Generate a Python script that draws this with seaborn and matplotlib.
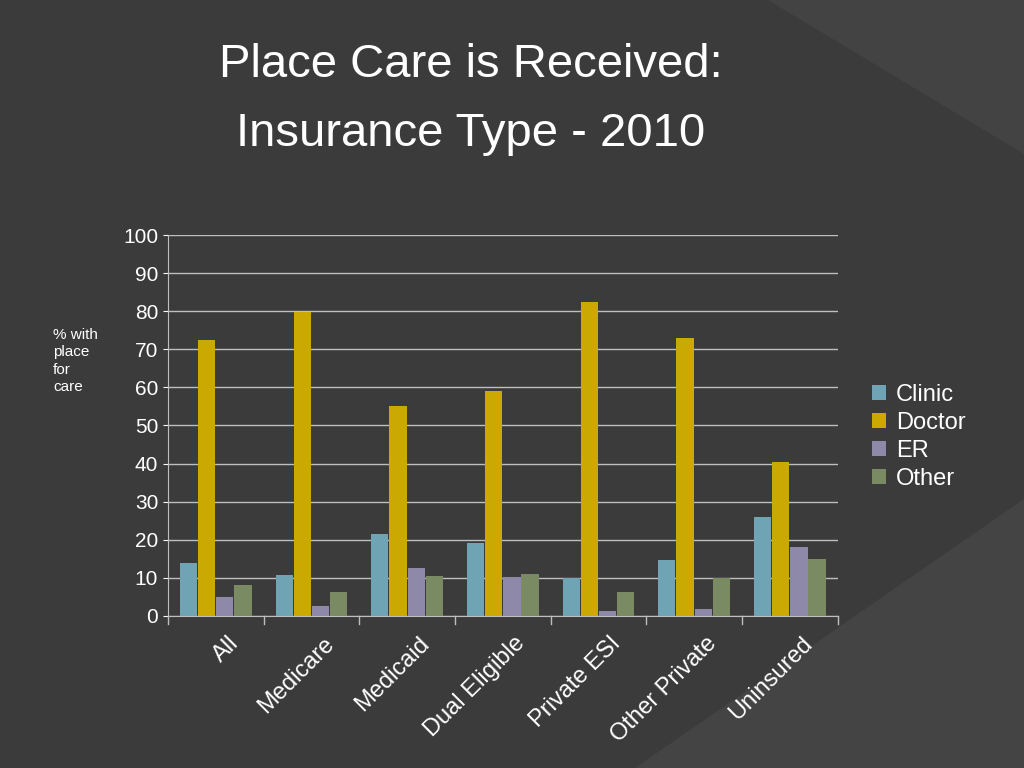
import matplotlib
matplotlib.use("Agg")
import matplotlib.pyplot as plt
import seaborn as sns
import pandas as pd
from matplotlib.patches import Polygon

plt.rcParams["font.family"] = "Liberation Sans"

categories = ["All", "Medicare", "Medicaid", "Dual Eligible", "Private ESI", "Other Private", "Uninsured"]
series = ["Clinic", "Doctor", "ER", "Other"]
clinic = [13.9, 10.8, 21.5, 19.2, 10.0, 14.7, 26.0]
doctor = [72.4, 79.8, 55.1, 59.1, 82.4, 73.0, 40.4]
er = [5.0, 2.6, 12.6, 10.2, 1.3, 1.8, 18.1]
other = [8.1, 6.3, 10.5, 11.0, 6.3, 10.0, 15.0]
colors = ["#6ea4b4", "#c9a902", "#8e89a8", "#7a8b63"]

rows = []
for s, vals in zip(series, [clinic, doctor, er, other]):
    for c, v in zip(categories, vals):
        rows.append({"cat": c, "series": s, "val": v})
df = pd.DataFrame(rows)

bg = "#3b3b3b"
fig = plt.figure(figsize=(10.24, 7.68), dpi=100, facecolor=bg)
fig.patches.append(Polygon([(0.62, 0.0), (1.0, 0.0), (1.0, 0.35)], closed=True,
                           transform=fig.transFigure, facecolor="#444444", edgecolor="none", zorder=-5))
fig.patches.append(Polygon([(0.75, 1.0), (1.0, 1.0), (1.0, 0.8)], closed=True,
                           transform=fig.transFigure, facecolor="#434343", edgecolor="none", zorder=-5))

ax = fig.add_axes([0.164, 0.198, 0.654, 0.496])
ax.set_zorder(2)
ax.set_facecolor("none")
sns.barplot(data=df, x="cat", y="val", hue="series", palette=colors, ax=ax,
            width=0.76, gap=0.05, saturation=1, zorder=3)
ax.set_ylim(0, 100)
ax.set_yticks(range(0, 101, 10))
ax.grid(axis="y", color="#bfbfbf", linewidth=1, zorder=0)
ax.set_axisbelow(True)
for sp in ["top", "right"]:
    ax.spines[sp].set_visible(False)
for sp in ["left", "bottom"]:
    ax.spines[sp].set_color("#bfbfbf")
ax.tick_params(colors="white", labelsize=15)
ax.tick_params(axis="x", length=0, pad=12)
ax.set_xlim(-0.5, 6.5)
for b in [i - 0.5 for i in range(8)]:
    ax.plot([b, b], [0, -2], color="#bfbfbf", clip_on=False, lw=1)
ax.set_xticks([i + 0.12 for i in range(len(categories))])
ax.set_xticklabels(categories, rotation=45, ha="right", rotation_mode="anchor", color="white", fontsize=17)
ax.set_xlabel("")
ax.set_ylabel("")
fig.text(0.052, 0.53, "% with\nplace\nfor\ncare", color="white", fontsize=11, va="center", ha="left", linespacing=1.3)

leg = ax.legend(loc="center left", bbox_to_anchor=(1.02, 0.47), frameon=False,
                fontsize=17, handlelength=0.6, handleheight=0.6, handletextpad=0.4, labelspacing=0.25)
for t in leg.get_texts():
    t.set_color("white")

fig.text(0.46, 0.915, "Place Care is Received:", color="white", fontsize=34, ha="center", va="center")
fig.text(0.46, 0.826, "Insurance Type - 2010", color="white", fontsize=34, ha="center", va="center")

fig.savefig("out.png", dpi=100, facecolor=bg)
